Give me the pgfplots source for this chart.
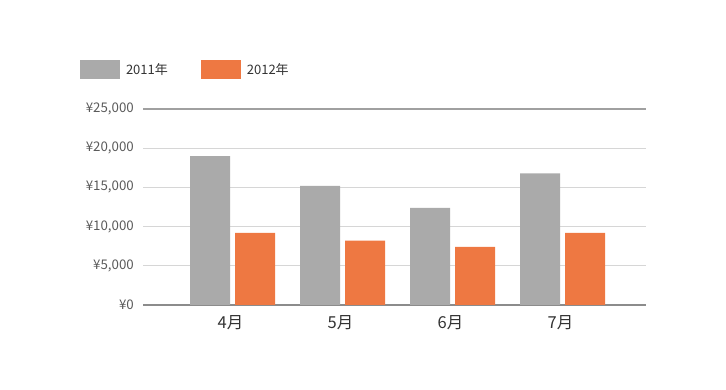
\documentclass[border=0pt]{standalone}
\usepackage{pgfplots}
\pgfplotsset{compat=1.18}
\usepackage{fontspec}
\setmainfont{Noto Sans CJK JP}
\definecolor{cgray}{HTML}{AAAAAA}
\definecolor{corange}{HTML}{EE7842}
\definecolor{gridc}{HTML}{D6D6D6}
\definecolor{axisc}{HTML}{8C8C8C}
\definecolor{toplc}{HTML}{A0A0A0}
\definecolor{ylab}{HTML}{5A5A5A}
\definecolor{xlab}{HTML}{333333}
\begin{document}
\begin{tikzpicture}
\path (0,0) rectangle (726pt,390pt);
\begin{axis}[
  at={(143pt,85pt)}, anchor=south west,
  scale only axis, width=503pt, height=196pt,
  ybar=5pt, bar width=40pt,
  xmin=-0.814, xmax=3.759,
  ymin=0, ymax=25000,
  xtick=data, xticklabels={4月,5月,6月,7月},
  ytick={0,5000,10000,15000,20000,25000},
  scaled y ticks=false,
  /pgf/number format/.cd, 1000 sep={,}, assume math mode=true, /pgfplots/.cd,
  yticklabel={¥\pgfmathprintnumber{\tick}},
  yticklabel style={font=\fontsize{13.3}{15}\selectfont, text=ylab, inner xsep=0pt, xshift=-9pt},
  xticklabel style={font=\fontsize{16.5}{18}\selectfont, text=xlab, yshift=-7pt, xshift=-2pt},
  major tick length=0pt,
  axis x line*=bottom, axis y line*=left,
  y axis line style={draw=none},
  x axis line style={draw=axisc, line width=1.6pt, -},
  ymajorgrids, grid style={gridc, line width=0.9pt},
  extra y ticks={25000}, extra y tick labels={},
  extra y tick style={grid style={toplc, line width=1.2pt}},
  legend columns=-1,
  legend style={at={(-0.1252,1.2015)}, anchor=west, draw=none, fill=none, inner sep=0pt, outer sep=0pt,
    font=\fontsize{13}{15}\selectfont, text=xlab,
    nodes={inner sep=0pt},
    /tikz/every odd column/.append style={column sep=6pt},
    /tikz/every even column/.append style={column sep=33pt}},
  legend image code/.code={\fill[#1] (0pt,-9.5pt) rectangle (40pt,9.5pt);},
]
\addplot[fill=cgray, draw=none] coordinates {(0,19000) (1,15200) (2,12400) (3,16800)};
\addplot[fill=corange, draw=none] coordinates {(0,9200) (1,8200) (2,7400) (3,9200)};
\legend{2011年,2012年}
\end{axis}
\end{tikzpicture}
\end{document}
